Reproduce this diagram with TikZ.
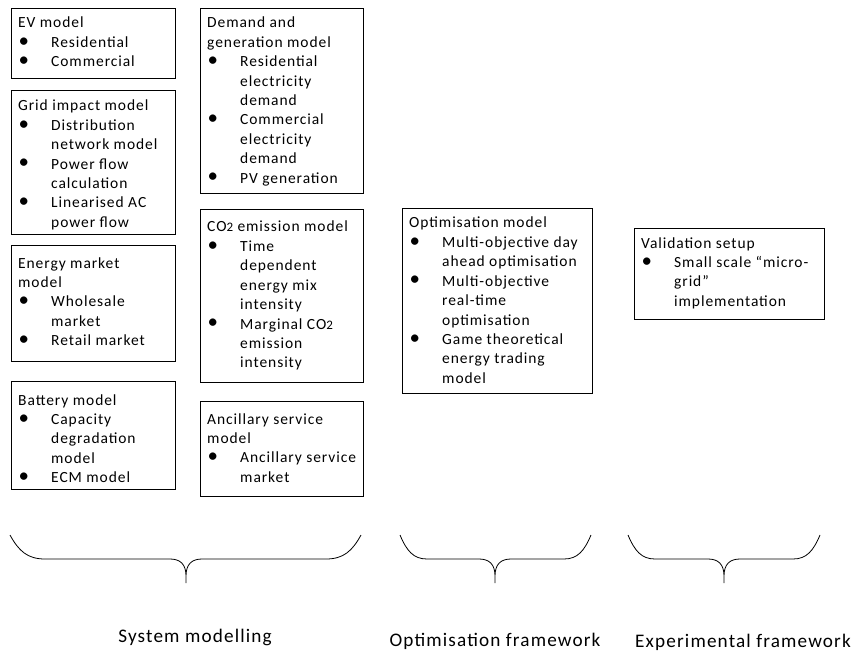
\documentclass[tikz,border=0pt]{standalone}
\usepackage{fontspec}
\setmainfont{Carlito}[LetterSpace=6]
\newcommand\bitem[1]{\par\leftskip=33pt\noindent\llap{\makebox[33pt][l]{\hspace{0.5pt}\raisebox{0.3pt}{\scalebox{1.35}{\textbullet}}}}#1}
\newcommand\boxtext[1]{\parbox[t]{230pt}{\fontsize{15.5}{19.4}\selectfont\raggedright\leftskip=0pt\noindent #1}}
\newcommand\cotwo{CO{\fontsize{13}{0}\selectfont 2}}
\newcommand\drawbrace[4]{%
  \draw[brace] ({#1},535) .. controls ({#1+0.25*#4},551) and ({#1+0.5*#4},559) .. ({#1+#4},559)
    -- ({#3-16},559) .. controls ({#3-6},559) and (#3,564) .. (#3,576) -- (#3,583)
    -- (#3,576) .. controls (#3,564) and ({#3+6},559) .. ({#3+16},559)
    -- ({#2-#4},559) .. controls ({#2-0.5*#4},559) and ({#2-0.25*#4},551) .. ({#2},535);}
\tikzset{
  box/.style={draw, line width=0.8pt, anchor=north west, inner sep=0pt},
  txt/.style={anchor=base west, inner sep=0pt},
  lbl/.style={anchor=base, inner sep=0pt, font=\fontsize{19.2}{21}\selectfont},
  brace/.style={line width=0.8pt}
}
\begin{document}
\begin{tikzpicture}[x=1pt, y=-1pt]
\useasboundingbox (0,0) rectangle (853,652);
% left column
\node[box, minimum width=164pt, minimum height=70pt] (ev) at (11,8) {};
\node[txt] (evt) at (18,28) {\boxtext{EV model\bitem{Residential}\bitem{Commercial}}};
\node[box, minimum width=164pt, minimum height=144pt] (grid) at (11,90) {};
\node[txt] (gridt) at (18,111) {\boxtext{Grid impact model\bitem{Distribution\\network model}\bitem{Power flow\\calculation}\bitem{Linearised AC\\power flow}}};
\node[box, minimum width=164pt, minimum height=116pt] (em) at (11,245) {};
\node[txt] (emt) at (18,268) {\boxtext{Energy market\\model\bitem{Wholesale\\market}\bitem{Retail market}}};
\node[box, minimum width=164pt, minimum height=108pt] (bat) at (11,381) {};
\node[txt] (batt) at (18,405) {\boxtext{Battery model\bitem{Capacity\\degradation\\model}\bitem{ECM model}}};
% middle column
\node[box, minimum width=163pt, minimum height=185pt] (dem) at (200,8) {};
\node[txt] (demt) at (207,28) {\boxtext{Demand and\\generation model\bitem{Residential\\electricity\\demand}\bitem{Commercial\\electricity\\demand}\bitem{PV generation}}};
\node[box, minimum width=163pt, minimum height=173pt] (co) at (200,209) {};
\node[txt] (cot) at (207,232) {\boxtext{\cotwo{} emission model\bitem{Time\\dependent\\energy mix\\intensity}\bitem{Marginal \cotwo\\emission\\intensity}}};
\node[box, minimum width=163pt, minimum height=95pt] (anc) at (200,401) {};
\node[txt] (anct) at (207,424) {\boxtext{Ancillary service\\model\bitem{Ancillary service\\market}}};
% optimisation
\node[box, minimum width=190pt, minimum height=185pt] (opt) at (402,208) {};
\node[txt] (optt) at (409,228) {\boxtext{Optimisation model\bitem{Multi-objective day\\ahead optimisation}\bitem{Multi-objective\\real-time\\optimisation}\bitem{Game theoretical\\energy trading\\model}}};
% validation
\node[box, minimum width=190pt, minimum height=91pt] (val) at (634,228) {};
\node[txt] (valt) at (641,248) {\boxtext{Validation setup\bitem{Small scale “micro-\\grid”\\implementation}}};
% braces
\drawbrace{10}{361}{186}{35}
\drawbrace{400}{591}{495}{27}
\drawbrace{628}{820}{724}{27}
% labels
\node[lbl] (l1) at (195,642) {System modelling};
\node[lbl] (l2) at (495,646) {Optimisation framework};
\node[lbl] (l3) at (743,647) {Experimental framework};
\end{tikzpicture}
\end{document}
